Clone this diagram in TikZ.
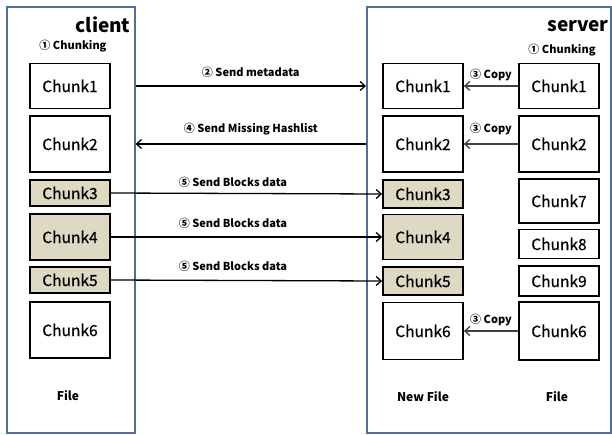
\documentclass[tikz,border=0pt]{standalone}
\usepackage{fontspec}
\setmainfont{Noto Sans CJK KR}
\newfontfamily\chunkfont[FakeBold=0.6]{Noto Sans CJK KR}
\usetikzlibrary{arrows.meta}
\definecolor{panel}{HTML}{4F6E9E}
\definecolor{tan}{HTML}{DDD9C3}
\definecolor{copyc}{HTML}{404040}
\tikzset{
  panelbox/.style={draw=panel, line width=1.6pt},
  chunk/.style={draw=black, line width=1.8pt, fill=white, inner sep=0pt, font=\chunkfont\fontsize{15.5}{17}\selectfont},
  sent/.style={chunk, fill=tan},
  lbl/.style={font=\bfseries\fontsize{11}{13}\selectfont, inner sep=1pt},
  title/.style={font=\bfseries\fontsize{19}{21}\selectfont, inner sep=0pt},
  msg/.style={draw=black, line width=1.3pt, -{Straight Barb[length=5pt,width=9pt]}},
  copyarr/.style={draw=copyc, line width=1.3pt, -{Straight Barb[length=5pt,width=9pt]}},
}
\begin{document}
\begin{tikzpicture}[x=1pt,y=-1pt]
\useasboundingbox (0,0) rectangle (612,434);
% panels
\node[panelbox, minimum width=128pt, minimum height=426pt, anchor=north west, inner sep=0pt] (cpanel) at (6,6) {};
\node[panelbox, minimum width=244pt, minimum height=426pt, anchor=north west, inner sep=0pt] (spanel) at (366,6) {};
% titles
\node[title] (ct) at (103,25) {client};
\node[title] (st) at (578,26) {server};
\node[lbl] (cchk) at (73,46) {① Chunking};
\node[lbl] (schk) at (562,50) {① Chunking};
% client chunks
\node[chunk, minimum width=80pt, minimum height=45pt] (c1) at (70,86) {Chunk1};
\node[chunk, minimum width=80pt, minimum height=56pt] (c2) at (70,144) {Chunk2};
\node[sent, minimum width=80pt, minimum height=26pt] (c3) at (70,193) {Chunk3};
\node[sent, minimum width=80pt, minimum height=46pt] (c4) at (70,237) {Chunk4};
\node[sent, minimum width=80pt, minimum height=26pt] (c5) at (70,280) {Chunk5};
\node[chunk, minimum width=80pt, minimum height=56pt] (c6) at (70,330) {Chunk6};
\node[lbl, font=\bfseries\fontsize{12}{14}\selectfont] (cf) at (68,396) {File};
% server new file
\node[chunk, minimum width=80pt, minimum height=45pt] (n1) at (423,86) {Chunk1};
\node[chunk, minimum width=80pt, minimum height=56pt] (n2) at (423,144) {Chunk2};
\node[sent, minimum width=80pt, minimum height=28pt] (n3) at (423,194) {Chunk3};
\node[sent, minimum width=80pt, minimum height=45pt] (n4) at (423,237) {Chunk4};
\node[sent, minimum width=80pt, minimum height=28pt] (n5) at (423,281) {Chunk5};
\node[chunk, minimum width=80pt, minimum height=57pt] (n6) at (423,331) {Chunk6};
\node[lbl, font=\bfseries\fontsize{12}{14}\selectfont] (nf) at (423,397) {New File};
% server file
\node[chunk, minimum width=80pt, minimum height=45pt] (s1) at (559,86) {Chunk1};
\node[chunk, minimum width=80pt, minimum height=56pt] (s2) at (559,144) {Chunk2};
\node[chunk, minimum width=80pt, minimum height=44pt] (s7) at (559,201) {Chunk7};
\node[chunk, minimum width=80pt, minimum height=29pt] (s8) at (559,244) {Chunk8};
\node[chunk, minimum width=80pt, minimum height=30pt] (s9) at (559,281) {Chunk9};
\node[chunk, minimum width=80pt, minimum height=58pt] (s6) at (559,331) {Chunk6};
\node[lbl, font=\bfseries\fontsize{12}{14}\selectfont] (sf) at (557,397) {File};
% messages
\draw[msg] (c1.east -| cpanel.east) -- (c1.east -| spanel.west) node[lbl, midway, above=7pt] {② Send metadata};
\draw[msg] (n2.west -| spanel.west) -- (n2.west -| cpanel.east) node[lbl, midway, above=7pt] {④ Send Missing Hashlist};
\draw[msg] (c3.east) -- (n3.west) node[lbl, pos=0.45, above=4pt] {⑤ Send Blocks data};
\draw[msg] (c4.east) -- (n4.west) node[lbl, pos=0.45, above=7pt] {⑤ Send Blocks data};
\draw[msg] (c5.east) -- (n5.west) node[lbl, pos=0.45, above=7pt] {⑤ Send Blocks data};
% copies
\draw[copyarr] (s1.west) -- (n1.east) node[lbl, midway, above=3pt] {③ Copy};
\draw[copyarr] (s2.west) -- (n2.east) node[lbl, midway, above=3pt, yshift=4pt] {③ Copy};
\draw[copyarr] (s6.west) -- (n6.east) node[lbl, midway, above=3pt] {③ Copy};
\end{tikzpicture}
\end{document}
